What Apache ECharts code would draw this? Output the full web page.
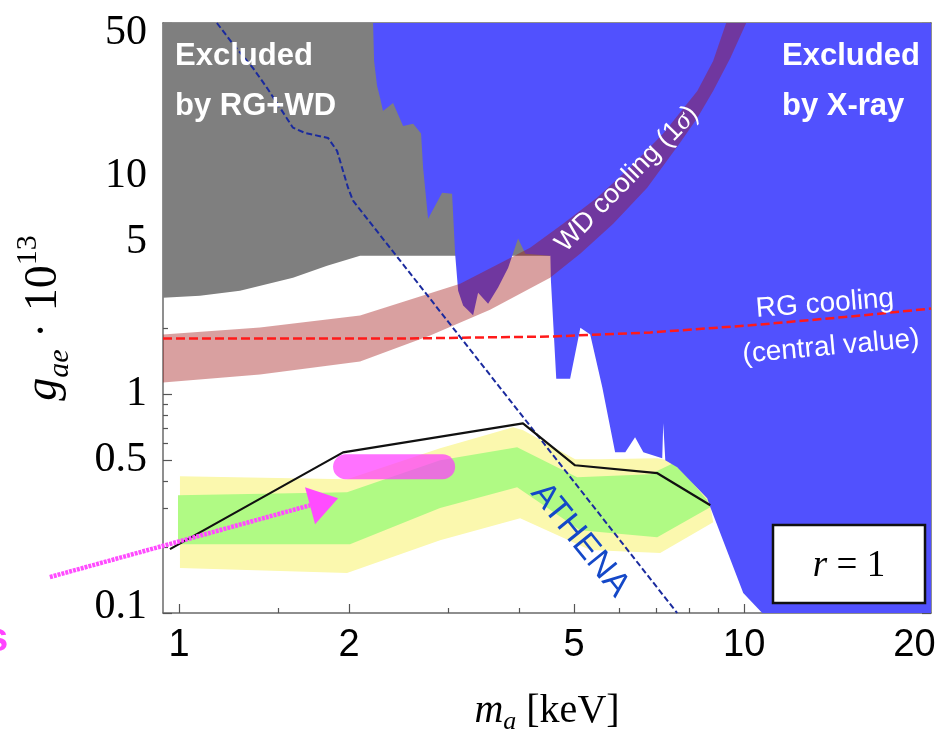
<!DOCTYPE html>
<html><head><meta charset="utf-8">
<script src="https://cdn.jsdelivr.net/npm/echarts@6/dist/echarts.min.js"></script>
<style>html,body{margin:0;padding:0;background:#fff}#c{width:941px;height:739px}</style>
</head><body><div id="c"></div>
<script>
// ---- axis ranges & ticks (physical units) ----
const xRange = [0.937, 21.4];
const yRange = [0.1, 50];
const xTickMajor = [1, 2, 5, 10, 20];
const xTickMinor = [1.5, 3, 4, 6, 7, 8, 9, 15];
const yTickMajor = [0.1, 0.5, 1, 5, 10, 50];
const yTickMinor = [0.2, 0.3, 0.4, 0.6, 0.7, 0.8, 0.9, 2, 3, 4, 6, 7, 8, 9, 20, 30, 40];

// ---- Excluded by RG+WD (gray): lower boundary ----
const grayX = [0.937, 1.089, 1.282, 1.591, 1.828, 2.091, 4.535];
const grayY = [2.77, 2.83, 2.98, 3.42, 3.88, 4.31, 4.31];

// ---- Excluded by X-ray (blue): lower-left boundary ----
const blueX = [2.205,2.214,2.241,2.269,2.296,2.392,2.492,2.596,2.681,2.703,2.759,2.921,3.042,3.080,3.118,3.182,3.314,3.382,3.523,3.669,3.823,3.98,4.10,4.54,4.55,4.65,4.92,5.13,5.34,5.61,5.91,6.16,6.41,6.63,7.16,7.19,7.25,7.61,8.60,8.71,9.96,10.76];
const blueY = [50,33.5,25.8,22.7,19.8,21.5,16.9,17.3,15.6,10.9,6.36,8.36,8.28,4.40,2.98,2.55,2.30,2.92,2.60,3.08,3.80,5.16,4.40,4.31,3.32,1.18,1.18,2.02,1.88,1.076,0.543,0.543,0.637,0.543,0.510,0.737,0.500,0.464,0.335,0.305,0.1234,0.1];

// ---- WD cooling (1 sigma) band edges ----
const wdUpX = [0.937,1.391,2.091,3.143,4.18,4.78,5.49,6.28,7.19,8.26,8.81,9.29];
const wdUpY = [1.879,2.023,2.295,3.21,4.69,6.04,7.94,10.9,15.6,24.4,33.5,50];
const wdLoX = [0.937,1.391,2.091,2.782,3.551,4.535,5.126,5.865,6.735,7.70,8.26,8.81,9.45,10.08];
const wdLoY = [1.134,1.234,1.415,1.86,2.44,3.42,4.40,6.04,8.82,14.15,18.4,24.4,34.6,50];

// ---- RG cooling central value ----
const rgX = [0.937, 2.46, 4.54, 6.82, 10.25, 15.4, 21.4];
const rgY = [1.80, 1.80, 1.84, 1.92, 2.07, 2.27, 2.47];

// ---- ATHENA sensitivity ----
const athX = [1.167, 1.246, 1.352, 1.432, 1.591, 1.671, 1.835, 1.904, 1.991, 2.032, 7.61];
const athY = [50, 40.1, 31.1, 25.2, 16.6, 15.7, 14.9, 13.0, 8.82, 7.69, 0.1];

// ---- black curve ----
const blkX = [0.964, 1.951, 4.06, 5.02, 7.02, 8.71];
const blkY = [0.196, 0.543, 0.737, 0.474, 0.436, 0.311];

// ---- 2 sigma (yellow) and 1 sigma (green) bands (closed outlines) ----
const yelX = [1.004,1.983,2.897,3.901,4.064,5.022,5.562,7.015,7.487,8.025,8.601,8.706,8.813,7.101,5.339,4.014,2.897,1.983,1.004];
const yelY = [0.422,0.409,0.567,0.707,0.685,0.505,0.505,0.510,0.494,0.414,0.339,0.311,0.260,0.188,0.194,0.2716,0.2154,0.1523,0.1605];
const grnX = [0.996,1.983,2.897,3.965,5.063,6.818,7.487,8.025,8.601,8.706,7.015,5.126,3.965,2.897,2.007,0.996];
const grnY = [0.346,0.357,0.4995,0.573,0.418,0.431,0.484,0.405,0.328,0.305,0.222,0.239,0.376,0.302,0.2065,0.2065];

// ---- hand-drawn annotations ----
const pillX = [1.971, 2.927];
const pillY = [0.4667, 0.4667];
const arrX = [0.591, 1.706];
const arrY = [0.146, 0.311];
const headX = [1.671, 1.912, 1.741];
const headY = [0.376, 0.335, 0.255];

const L = v => Math.log10(v);
const pair = (xs, ys) => xs.map((x, i) => [L(x), L(ys[i])]);

function poly(pts, fill, z, opacity) {
  return {
    type: 'custom', coordinateSystem: 'cartesian2d', xAxisIndex: 0, yAxisIndex: 0,
    z: z, silent: true, animation: false, data: pts,
    renderItem: function (params, api) {
      if (params.dataIndex !== 0) return null;
      const cs = params.coordSys;
      return {
        type: 'group',
        clipPath: { type: 'rect', shape: { x: cs.x, y: cs.y, width: cs.width, height: cs.height } },
        children: [{ type: 'polygon', shape: { points: pts.map(p => api.coord(p)) },
          style: { fill: fill, opacity: opacity == null ? 1 : opacity } }]
      };
    }
  };
}
function freeLine(pts, stroke, width, dash, z) {
  return {
    type: 'custom', coordinateSystem: 'cartesian2d', xAxisIndex: 0, yAxisIndex: 0,
    z: z, silent: true, animation: false, data: pts,
    renderItem: function (params, api) {
      if (params.dataIndex !== 0) return null;
      return { type: 'polyline', shape: { points: pts.map(p => api.coord(p)) },
        style: { stroke: stroke, lineWidth: width, lineDash: dash, fill: null } };
    }
  };
}
function line(xs, ys, color, width, type, z, extra) {
  return Object.assign({
    type: 'line', data: pair(xs, ys), symbol: 'none', silent: true, animation: false, z: z,
    lineStyle: { color: color, width: width, type: type }
  }, extra || {});
}

const grayPts = pair(grayX.concat([4.535, 0.937]), grayY.concat([50, 50]));
const bluePts = pair(blueX.concat([21.4, 21.4]), blueY.concat([0.1, 50]));
const wdPts = pair(wdUpX.concat(wdLoX.slice().reverse()), wdUpY.concat(wdLoY.slice().reverse()));
const yelPts = pair(yelX, yelY);
const grnPts = pair(grnX, grnY);
const headPts = pair(headX, headY);
const arrPts = pair(arrX, arrY);

const fmt = v => String(+Math.pow(10, v).toPrecision(2));
const axisCol = '#6a6a6a';
function xAx(pos, major, showLine, labels) {
  const o = {
    type: 'value', position: pos, min: L(xRange[0]), max: L(xRange[1]),
    axisLine: { show: showLine, onZero: false, lineStyle: { color: axisCol, width: 1.5 } },
    axisTick: { show: true, inside: true, length: major ? 9 : 5,
      customValues: (major ? xTickMajor : xTickMinor).map(L), lineStyle: { color: '#555', width: 1.2 } },
    axisLabel: { show: false }, splitLine: { show: false }
  };
  if (labels) {
    o.axisLabel = { show: true, customValues: xTickMajor.map(L), formatter: fmt, margin: 14,
      color: '#000', fontFamily: 'Liberation Sans', fontSize: 38 };
    o.name = '{m|m}{a|a}{n| [keV]}';
    o.nameLocation = 'middle';
    o.nameGap = 74;
    o.nameTextStyle = { rich: {
      m: { fontFamily: 'Liberation Serif', fontStyle: 'italic', fontSize: 40, lineHeight: 48, color: '#000' },
      a: { fontFamily: 'Liberation Serif', fontStyle: 'italic', fontSize: 26, lineHeight: 28, verticalAlign: 'bottom', color: '#000' },
      n: { fontFamily: 'Liberation Serif', fontSize: 40, lineHeight: 48, color: '#000' } } };
  }
  return o;
}
function yAx(pos, major, showLine, labels) {
  const o = {
    type: 'value', position: pos, min: L(yRange[0]), max: L(yRange[1]),
    axisLine: { show: showLine, onZero: false, lineStyle: { color: axisCol, width: 1.5 } },
    axisTick: { show: true, inside: true, length: major ? 9 : 5,
      customValues: (major ? yTickMajor : yTickMinor).map(L), lineStyle: { color: '#555', width: 1.2 } },
    axisLabel: { show: false }, splitLine: { show: false }
  };
  if (labels) {
    const base = { fontFamily: 'Liberation Serif', fontSize: 42, color: '#000' };
    o.axisLabel = { show: true, customValues: yTickMajor.map(L), margin: 16,
      formatter: v => { const s = fmt(v); return s === '50' ? '{t|50}' : (s === '0.1' ? '{b|0.1}' : '{n|' + s + '}'); },
      rich: { n: base, t: Object.assign({ padding: [20, 0, 0, 0] }, base), b: Object.assign({ padding: [0, 0, 12, 0] }, base) } };
    o.name = '{g|g}{s|ae}{n| · 10}{p|13}';
    o.nameLocation = 'middle';
    o.nameGap = 88;
    o.nameTextStyle = { padding: [0, 0, 0, 0], rich: {
      g: { fontFamily: 'Liberation Serif', fontStyle: 'italic', fontSize: 46, lineHeight: 62, color: '#000' },
      s: { fontFamily: 'Liberation Serif', fontStyle: 'italic', fontSize: 30, lineHeight: 34, verticalAlign: 'bottom', color: '#000' },
      n: { fontFamily: 'Liberation Serif', fontSize: 46, lineHeight: 62, color: '#000' },
      p: { fontFamily: 'Liberation Serif', fontSize: 30, lineHeight: 34, verticalAlign: 'top', color: '#000' } } };
  }
  return o;
}

const chart = echarts.init(document.getElementById('c'), null, { renderer: 'canvas' });
chart.setOption({
  animation: false,
  backgroundColor: '#fff',
  grid: { left: 163, top: 23, width: 768, height: 590, containLabel: false, outerBoundsMode: 'none' },
  xAxis: [xAx('bottom', true, true, true), xAx('bottom', false, false, false), xAx('top', true, true, false), xAx('top', false, false, false)],
  yAxis: [yAx('left', true, true, true), yAx('left', false, false, false), yAx('right', true, true, false), yAx('right', false, false, false)],
  series: [
    poly(yelPts, '#fbf8ae', 1),
    poly(grnPts, '#b0fa84', 2),
    poly(grayPts, '#7f7f7f', 3),
    poly(bluePts, '#5151fe', 4),
    poly(wdPts, 'rgb(160,18,18)', 5, 0.4),
    line(pillX, pillY, 'rgba(255,60,255,0.72)', 25, 'solid', 6, { lineStyle: { color: 'rgba(255,60,255,0.72)', width: 25, cap: 'round' } }),
    line(rgX, rgY, '#ff1a1a', 2.5, [9, 4], 7),
    line(athX, athY, '#1a2a9e', 2, [6, 3], 8),
    line(blkX, blkY, '#111', 2.2, 'solid', 9),
    freeLine(arrPts, '#ff4cff', 4.5, [3, 1], 10),
    poly(headPts, '#ff4cff', 10)
  ],
  graphic: [
    { type: 'text', x: 175, y: 31, z: 100, style: { text: 'Excluded\nby RG+WD', fill: '#fff', font: 'bold 31px "Liberation Sans"', lineHeight: 50 } },
    { type: 'text', x: 782, y: 31, z: 100, style: { text: 'Excluded\nby X-ray', fill: '#fff', font: 'bold 31px "Liberation Sans"', lineHeight: 50 } },
    { type: 'text', x: 627, y: 179, rotation: 0.8, z: 100,
      style: { text: '{a|WD cooling (1}{s|σ}{a|)}', align: 'center', verticalAlign: 'middle',
        rich: { a: { fill: '#fff', fontFamily: 'Liberation Sans', fontSize: 27 }, s: { fill: '#fff', fontFamily: 'Liberation Serif', fontStyle: 'italic', fontSize: 27 } } } },
    { type: 'text', x: 825, y: 304, rotation: 0.078, z: 100,
      style: { text: 'RG cooling', fill: '#fff', font: '28px "Liberation Sans"', align: 'center', verticalAlign: 'middle' } },
    { type: 'text', x: 831, y: 347, rotation: 0.09, z: 100,
      style: { text: '(central value)', fill: '#fff', font: '28px "Liberation Sans"', align: 'center', verticalAlign: 'middle' } },
    { type: 'text', x: 580, y: 540, rotation: -0.89, z: 100,
      style: { text: 'ATHENA', fill: '#1448c8', font: '34px "Liberation Sans"', align: 'center', verticalAlign: 'middle' } },
    { type: 'rect', z: 100, shape: { x: 773, y: 525, width: 152, height: 78 }, style: { fill: '#fff', stroke: '#111', lineWidth: 2.5 } },
    { type: 'text', x: 849, y: 566, z: 101,
      style: { text: '{i|r}{n| = 1}', align: 'center', verticalAlign: 'middle',
        rich: { i: { fill: '#000', fontFamily: 'Liberation Serif', fontStyle: 'italic', fontSize: 37 }, n: { fill: '#000', fontFamily: 'Liberation Serif', fontSize: 37 } } } },
    { type: 'text', x: -14, y: 640, z: 100, style: { text: 's', fill: '#ff44ff', font: 'bold 40px "Liberation Sans"', verticalAlign: 'middle' } }
  ]
});
</script></body></html>
